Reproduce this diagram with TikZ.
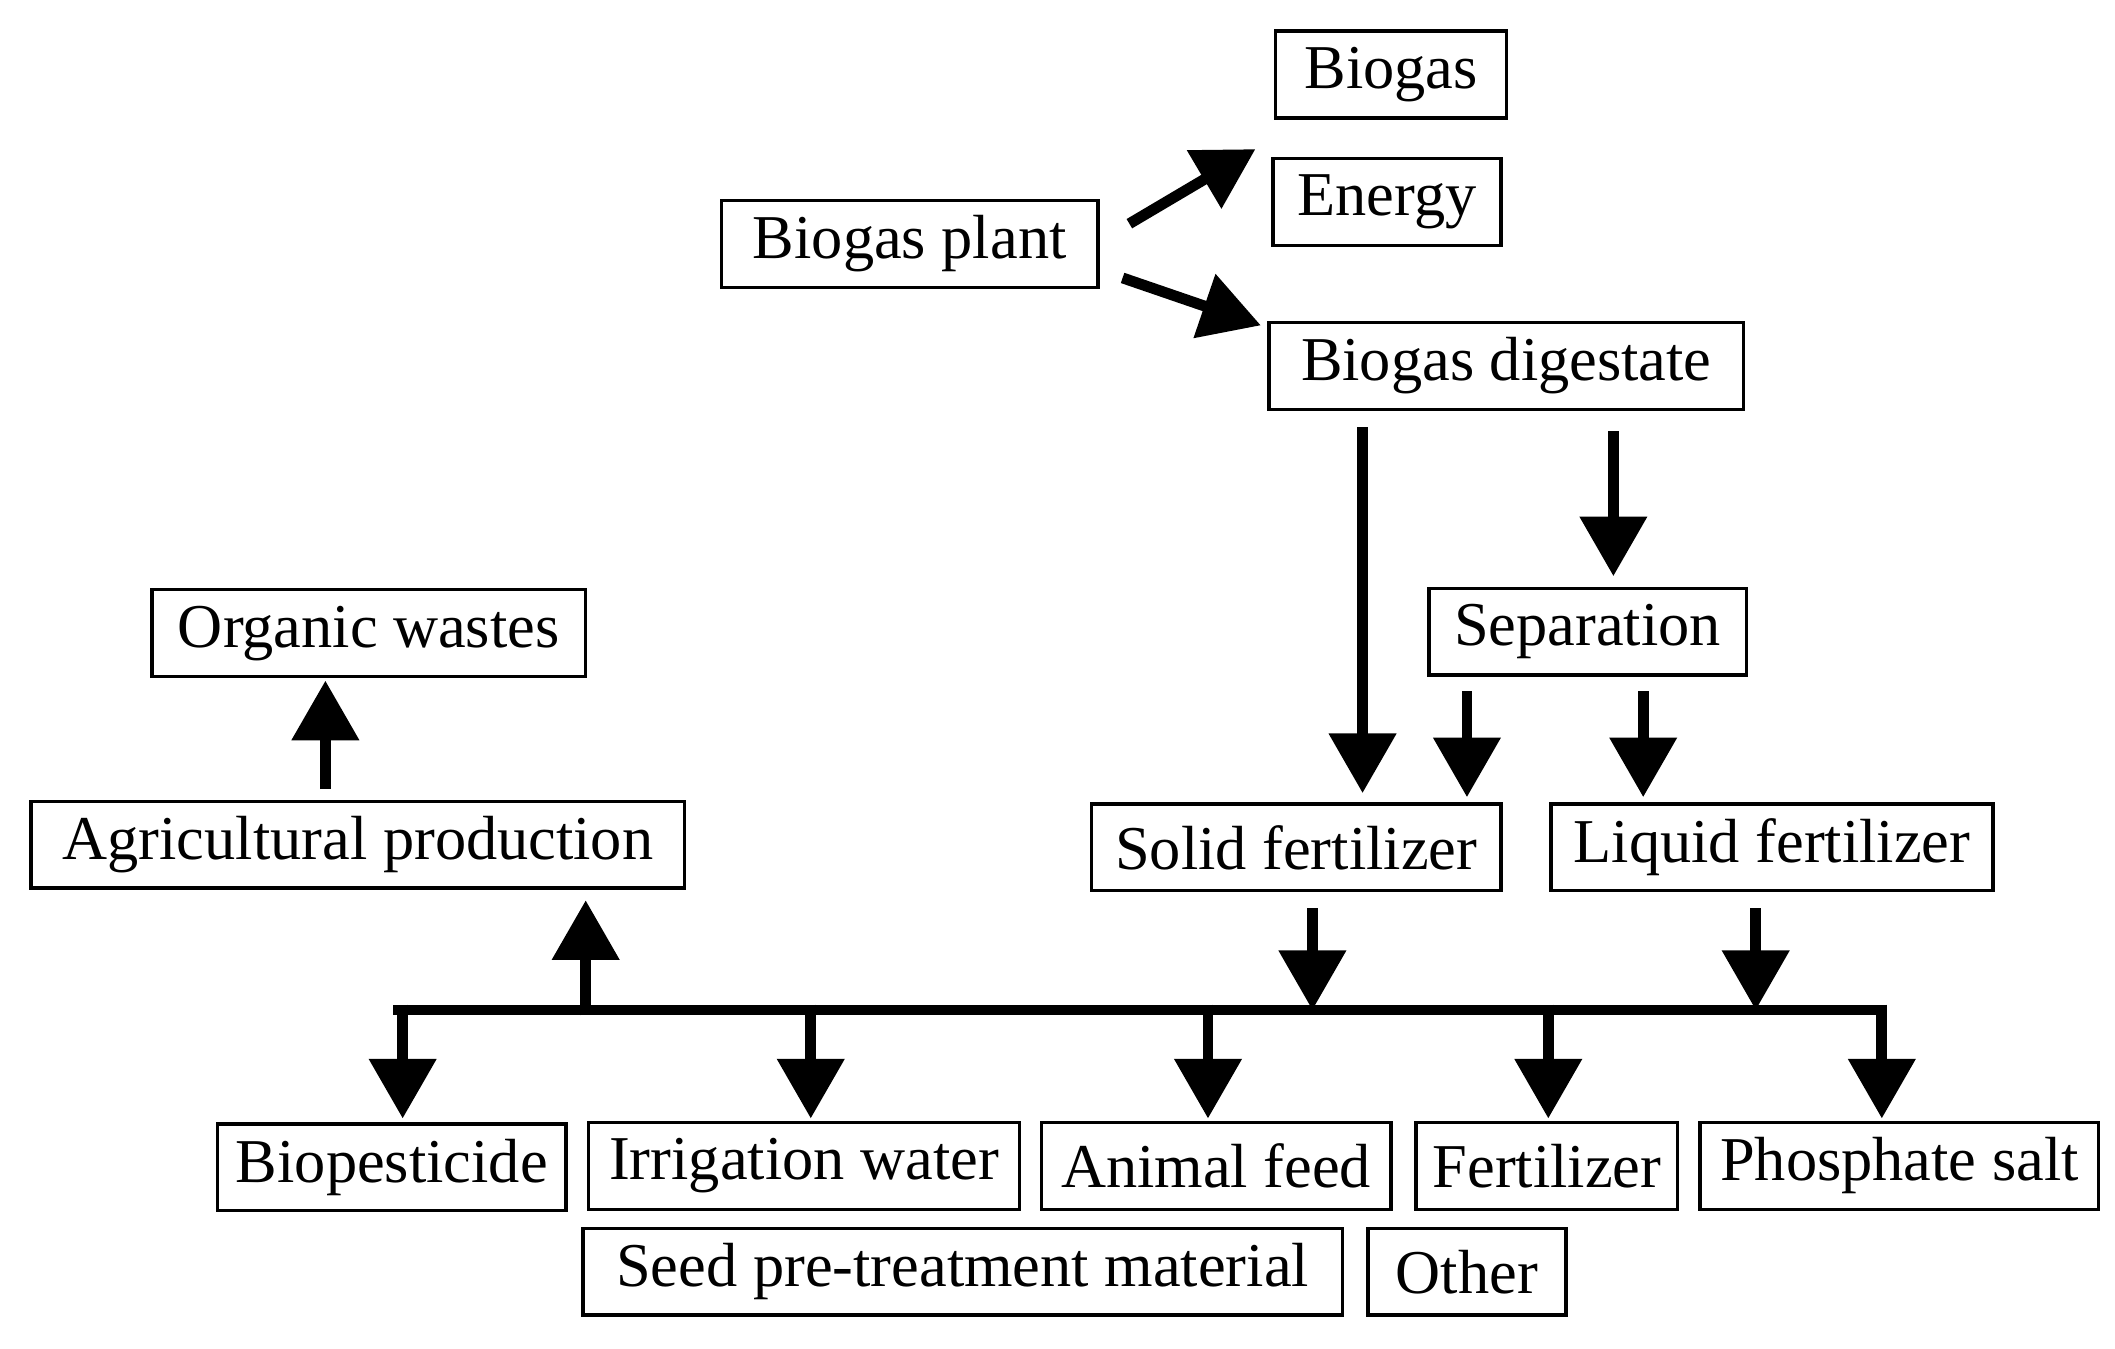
\documentclass[tikz,border=0pt]{standalone}
\usepackage{fontspec}
\setmainfont{Liberation Serif}
\usetikzlibrary{arrows.meta}
\begin{document}
\begin{tikzpicture}[x=1pt,y=-1pt,
  box/.style={draw,line width=2.5pt,inner sep=0pt,minimum height=64pt,font=\fontsize{46}{54}\selectfont},
  arr/.style={line width=8pt,-{Triangle[width=48pt,length=44pt]}},
  bus/.style={line width=8pt}]
\useasboundingbox (0,0) rectangle (1560,995);
\node[box,minimum width=170pt] (biogas) at (1026,55) {Biogas};
\node[box,minimum width=168pt] (energy) at (1023,149) {Energy};
\node[box,minimum width=278pt] (plant) at (671,180) {Biogas plant};
\node[box,minimum width=350pt] (dig) at (1111,270) {Biogas digestate};
\node[box,minimum width=234pt] (sep) at (1171,466) {Separation};
\node[box,minimum width=320pt] (org) at (272,467) {Organic wastes};
\node[box,minimum width=482pt] (agr) at (264,623) {Agricultural production};
\node[box,minimum width=302pt] (solid) at (956,625) {Solid fertilizer};
\node[box,minimum width=326pt] (liquid) at (1307,625) {Liquid fertilizer};
\node[box,minimum width=257pt] (bio) at (289,861) {Biopesticide};
\node[box,minimum width=318pt] (irr) at (593,860) {Irrigation water};
\node[box,minimum width=258pt] (feed) at (897,860) {Animal feed};
\node[box,minimum width=193pt] (fert) at (1141,860) {Fertilizer};
\node[box,minimum width=294pt] (phos) at (1401,860) {Phosphate salt};
\node[box,minimum width=560pt] (seed) at (710,938) {Seed pre-treatment material};
\node[box,minimum width=146pt] (other) at (1082,938) {Other};
\coordinate (busL) at (290,745); \coordinate (busR) at (1388,745);
\draw[bus] (busL) -- (busR);
\draw[arr] (833,165) -- (926,110);
\draw[arr] (828,205) -- (930,240);
\draw[arr] (1005,315) -- (1005,585);
\draw[arr] (1190,318) -- (1190,425);
\draw[arr] (1082,510) -- (1082,588);
\draw[arr] (1212,510) -- (1212,588);
\draw[arr] (968,670) -- (968,745);
\draw[arr] (1295,670) -- (1295,745);
\draw[arr] (432,749) -- (432,664);
\draw[arr] (240,582) -- (240,502);
\foreach \x in {297,598,891,1142,1388}{\draw[arr] (\x,741) -- (\x,825);}
\end{tikzpicture}
\end{document}
